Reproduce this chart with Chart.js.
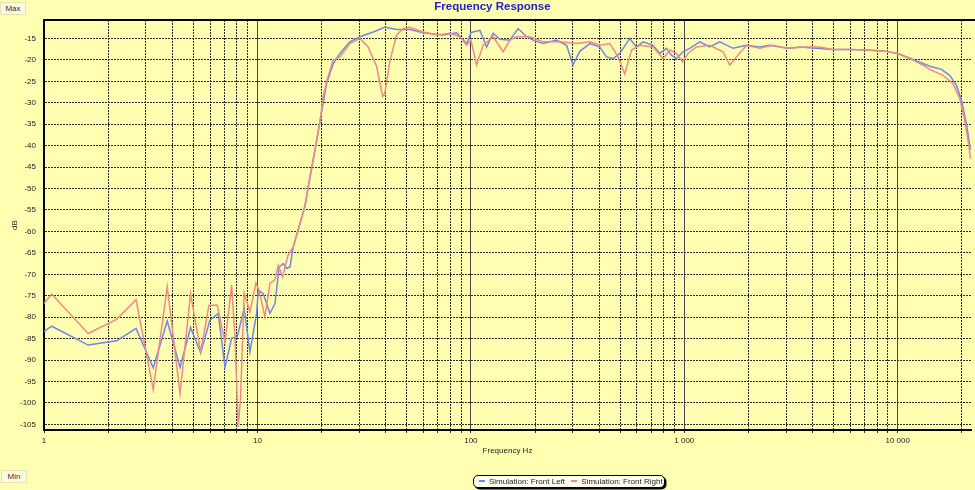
<!DOCTYPE html>
<html>
<head>
<meta charset="utf-8">
<script src="https://cdn.jsdelivr.net/npm/chart.js@4/dist/chart.umd.min.js"></script>
<style>
html,body{margin:0;padding:0;background:#FFFFB2;}
#wrap{position:relative;width:975px;height:490px;overflow:hidden;background:#FFFFB2;font-family:"Liberation Sans",Arial,sans-serif;}
#c{position:absolute;left:0;top:0;}
.btn{position:absolute;font-size:8px;color:#333;background:#FDFBE2;border:1px solid #E6E2BE;width:24px;height:11px;line-height:11px;text-align:center;}
#title{position:absolute;left:0;top:0px;width:985px;text-align:center;font-weight:bold;font-size:11.5px;color:#2323C4;}
#legend{position:absolute;left:473px;top:475px;width:190px;height:11px;border:1px solid #000;border-radius:5px;background:#FFFFF2;box-shadow:1.5px 1.5px 0 #000;font-size:8px;color:#222;line-height:11px;white-space:nowrap;}
#legend span.sw{display:inline-block;width:6px;height:1.5px;vertical-align:middle;margin:0 4px 0 5px;position:relative;top:-1px;}
</style>
</head>
<body>
<div id="wrap">
<canvas id="c" width="975" height="490"></canvas>
<div id="title">Frequency Response</div>
<div class="btn" style="left:0;top:2px;">Max</div>
<div class="btn" style="left:1px;top:470px;">Min</div>
<div id="legend"><span class="sw" style="background:#7485E6"></span>Simulation: Front Left <span class="sw" style="background:#EC8C84;margin-left:4px"></span>Simulation: Front Right</div>
</div>
<script>
// ---- data ----
const seriesNames = ["Simulation: Front Left", "Simulation: Front Right"];

const freqLeft = [1.0,1.087,1.61,2.19,2.70,3.25,3.78,4.34,4.86,5.42,5.99,6.55,7.05,7.57,8.04,8.67,9.22,9.91,10.09,10.65,11.44,12.08,12.65,13.21,13.71,14.2,14.72,15.81,16.69,17.62,18.59,19.77,21.1,22.6,24.35,27.1,30.2,34.9,39.5,44.9,51.8,59.8,69.1,74.2,85.8,95.5,100.3,110.2,118.5,127.2,136.7,152.3,166.5,182.4,195.8,218,252,281,301,324,361,402,432,464,499,555,597,641,714,768,825,871,919,987,1061,1182,1316,1466,1693,1956,2258,2515,2801,3119,3475,4159,4977,5957,7136,8531,10030,11800,14130,16020,17520,18840,19880,20980,21900];
const dbLeft = [-83.3,-82.1,-86.5,-85.5,-82.6,-91.8,-80.9,-91.7,-82.4,-88.3,-80.7,-79.1,-91.7,-84.9,-84.6,-78.0,-88.1,-79.1,-73.7,-74.5,-79.1,-76.8,-68.3,-67.5,-68.6,-68.3,-63.6,-58.3,-54.0,-47.5,-41.2,-33.5,-25.5,-21.0,-18.5,-15.8,-14.6,-13.5,-12.4,-12.9,-12.9,-13.7,-14.0,-14.2,-13.7,-16.2,-13.6,-13.1,-17.0,-13.8,-15.2,-15.4,-12.7,-14.6,-15.4,-16.2,-15.4,-16.6,-21.2,-18.0,-16.2,-17.0,-19.3,-19.7,-18.5,-15.0,-17.0,-15.8,-16.6,-18.5,-17.3,-18.9,-19.7,-18.1,-17.3,-15.8,-17.0,-15.8,-17.3,-16.6,-17.0,-16.6,-17.0,-17.3,-17.0,-17.3,-17.6,-17.6,-17.7,-17.9,-18.5,-19.9,-21.5,-22.2,-23.6,-25.9,-29.4,-34.8,-41.0];

const freqRight = [1.0,1.087,1.61,2.19,2.70,3.25,3.78,4.34,4.86,5.42,5.93,6.48,7.05,7.57,7.85,8.13,8.34,8.67,9.22,9.84,10.2,10.84,11.44,12.08,12.52,13.12,13.93,14.72,15.81,16.69,17.62,18.59,19.77,20.3,21.1,22.6,24.35,27.1,30.2,33.0,36.2,38.6,39.5,41.8,44.9,48.2,51.8,59.8,69.1,79.7,88.8,95.5,100,106.3,114.2,127.2,141.7,152.3,163.7,189,218,261,313,361,402,448,490,526,566,619,714,796,855,919,981,1042,1140,1316,1520,1633,1756,1956,2258,2606,3011,3736,4312,4977,5957,7136,8531,9862,11381,13140,14130,16300,18150,19520,20600,21580,21900];
const dbRight = [-76.8,-74.6,-83.8,-80.5,-75.9,-96.9,-72.9,-97.8,-74.5,-88.1,-77.2,-77.2,-85.8,-72.5,-84.6,-105.6,-98.6,-74.3,-78.8,-72.1,-73.9,-79.9,-72.1,-71.3,-67.9,-70.6,-65.5,-63.6,-58.1,-54.3,-47.3,-41.0,-33.3,-28.6,-25.1,-20.1,-19.3,-16.2,-15.0,-17.0,-21.6,-28.5,-27.8,-20.1,-14.2,-12.7,-12.4,-13.5,-14.2,-13.8,-14.6,-16.6,-15.3,-21.2,-16.6,-14.6,-18.1,-15.4,-14.6,-14.6,-15.8,-15.8,-16.2,-15.8,-16.6,-16.2,-19.3,-23.3,-17.7,-16.6,-17.0,-19.7,-17.7,-18.5,-20.5,-18.5,-17.0,-16.6,-18.1,-21.2,-19.3,-16.6,-17.3,-16.6,-17.3,-17.0,-17.0,-17.6,-17.6,-17.7,-17.9,-18.4,-19.7,-21.2,-22.2,-23.6,-25.5,-29.0,-34.0,-40.2,-43.0];

const xTickValues = [1,2,3,4,5,6,7,8,9,10,20,30,40,50,60,70,80,90,100,200,300,400,500,600,700,800,900,1000,2000,3000,4000,5000,6000,7000,8000,9000,10000,20000];
const xTickLabels = {1:"1",10:"10",100:"100",1000:"1 000",10000:"10 000"};
const yTickValues = [-105,-100,-95,-90,-85,-80,-75,-70,-65,-60,-55,-50,-45,-40,-35,-30,-25,-20,-15];

// ---- chart ----
const FONT = '"Liberation Sans", Arial, sans-serif';
const isDecade = v => Object.prototype.hasOwnProperty.call(xTickLabels, v);
const toPts = (xs, ys) => xs.map((f, i) => ({x: f, y: ys[i]}));

const framePlugin = {
  id: 'frame',
  afterDraw(chart) {
    const {ctx, chartArea: a} = chart;
    ctx.save();
    ctx.strokeStyle = '#000';
    ctx.lineWidth = 2;
    ctx.beginPath();
    ctx.moveTo(a.left - 1, a.top);
    ctx.lineTo(chart.width, a.top);
    ctx.stroke();
    ctx.restore();
  }
};

new Chart(document.getElementById('c'), {
  type: 'line',
  data: {
    datasets: [
      {label: seriesNames[0], data: toPts(freqLeft, dbLeft), borderColor: '#7485E6', borderWidth: 1.5, pointRadius: 0, tension: 0, order: 2},
      {label: seriesNames[1], data: toPts(freqRight, dbRight), borderColor: '#EC8C84', borderWidth: 1.5, pointRadius: 0, tension: 0, order: 1}
    ]
  },
  options: {
    responsive: false,
    animation: false,
    parsing: true,
    layout: {padding: {left: 0, right: 4, top: 20, bottom: 30.7}},
    plugins: {legend: {display: false}, title: {display: false}, tooltip: {enabled: false}},
    scales: {
      x: {
        type: 'logarithmic',
        min: 1, max: 22050,
        afterBuildTicks: s => { s.ticks = xTickValues.map(v => ({value: v})); },
        afterFit: s => { s.height = 29.3; },
        ticks: {
          autoSkip: false, maxRotation: 0, minRotation: 0, padding: 3,
          font: {size: 8, family: FONT}, color: '#222',
          callback: v => xTickLabels[v] || ''
        },
        grid: {
          color: c => (c.tick && isDecade(c.tick.value)) ? '#4a4a4a' : '#2a2a2a',
          lineWidth: 1, drawTicks: true, tickLength: 3, tickColor: '#333'
        },
        border: {
          display: true, color: '#000', width: 2,
          dash: c => (c.tick && !isDecade(c.tick.value)) ? [2, 1] : []
        },
        title: {display: true, text: 'Frequency Hz', color: '#222', font: {size: 8, family: FONT}, padding: {top: 0, bottom: 4}}
      },
      y: {
        min: -106.3, max: -10.7,
        afterBuildTicks: s => { s.ticks = yTickValues.map(v => ({value: v})); },
        afterFit: s => { s.width = 44; },
        ticks: {padding: 8, font: {size: 8, family: FONT}, color: '#222', callback: v => String(v)},
        grid: {color: '#2a2a2a', lineWidth: 1, drawTicks: false},
        border: {display: true, color: '#000', width: 2, dash: [2, 1]},
        title: {display: true, text: 'dB', color: '#222', font: {size: 8, family: FONT}, padding: {top: 10, bottom: 0}}
      }
    }
  },
  plugins: [framePlugin]
});
</script>
</body>
</html>
